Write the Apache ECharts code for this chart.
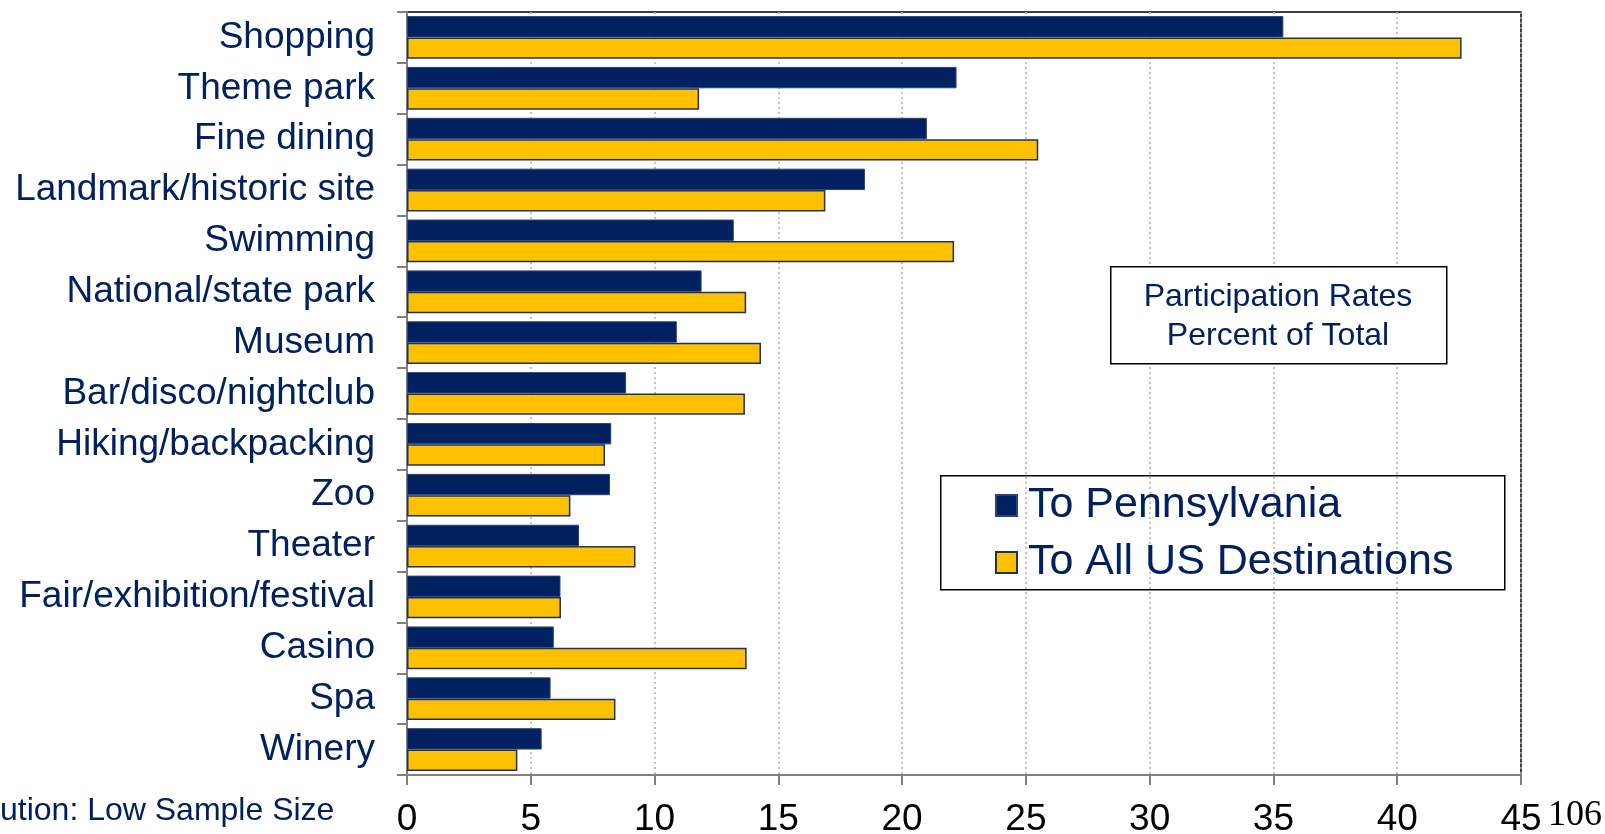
<!DOCTYPE html>
<html>
<head>
<meta charset="utf-8">
<script src="https://cdn.jsdelivr.net/npm/echarts@6/dist/echarts.min.js"></script>
<style>
html,body{margin:0;padding:0;background:#fff;}
#chart{width:1605px;height:834px;}
</style>
</head>
<body>
<div id="chart"></div>
<script>
const categories = ["Shopping","Theme park","Fine dining","Landmark/historic site","Swimming","National/state park","Museum","Bar/disco/nightclub","Hiking/backpacking","Zoo","Theater","Fair/exhibition/festival","Casino","Spa","Winery"];
const toPennsylvania = [35.4, 22.2, 21.0, 18.5, 13.2, 11.9, 10.9, 8.85, 8.25, 8.2, 6.95, 6.2, 5.93, 5.8, 5.44];
const toAllUS = [42.6, 11.8, 25.5, 16.9, 22.1, 13.7, 14.3, 13.65, 8.0, 6.6, 9.23, 6.22, 13.72, 8.42, 4.46];
const xTicks = [0, 5, 10, 15, 20, 25, 30, 35, 40, 45];
const seriesNames = ["To Pennsylvania", "To All US Destinations"];

const NAVY = '#002060';
const YELLOW = '#FFC000';
const FONT = '"Liberation Sans", Arial, sans-serif';

const chart = echarts.init(document.getElementById('chart'), null, {renderer: 'canvas'});
chart.setOption({
  animation: false,
  backgroundColor: '#ffffff',
  textStyle: {fontFamily: FONT},
  grid: {left: 407, right: 84, top: 12, bottom: 59, show: true, borderColor: '#000', borderWidth: 1.5, backgroundColor: 'transparent', containLabel: false, outerBoundsMode: 'none'},
  xAxis: {
    type: 'value', min: xTicks[0], max: xTicks[xTicks.length - 1], interval: 5,
    axisLine: {show: true, lineStyle: {color: '#808080', width: 2}},
    axisTick: {show: true, length: 10, lineStyle: {color: '#808080', width: 2}},
    axisLabel: {color: '#000', fontSize: 37, margin: 26, fontFamily: FONT},
    splitLine: {show: true, lineStyle: {color: '#b0b0b0', type: [2, 3], width: 1.5}}
  },
  yAxis: {
    type: 'category', data: categories, inverse: true,
    axisLine: {show: true, lineStyle: {color: '#808080', width: 2}},
    axisTick: {show: true, length: 10, lineStyle: {color: '#808080', width: 2}},
    axisLabel: {color: NAVY, fontSize: 37, margin: 32, fontFamily: FONT},
    splitLine: {show: false}
  },
  legend: {
    orient: 'vertical', left: 990, top: 479,
    itemWidth: 21, itemHeight: 21, itemGap: 14,
    icon: 'rect',
    textStyle: {color: NAVY, fontSize: 43, fontFamily: FONT, padding: [0, 0, 0, 6]},
    data: seriesNames
  },
  series: [
    {name: seriesNames[0], type: 'bar', data: toPennsylvania, barGap: '0%', barCategoryGap: '16%',
     itemStyle: {color: NAVY, borderColor: '#2c4578', borderWidth: 1}},
    {name: seriesNames[1], type: 'bar', data: toAllUS, barGap: '0%', barCategoryGap: '16%',
     itemStyle: {color: YELLOW, borderColor: '#1a3367', borderWidth: 1.5}}
  ],
  graphic: [
    {type: 'rect', left: 940, top: 475, shape: {width: 564, height: 114}, style: {fill: 'transparent', stroke: '#000', lineWidth: 1.5}, z: 10},
    {type: 'rect', left: 1110, top: 266, shape: {width: 336, height: 97}, style: {fill: '#fff', stroke: '#000', lineWidth: 1.5}, z: 10},
    {type: 'text', x: 1278, y: 317, z: 11, style: {text: 'Participation Rates\nPercent of Total', fill: NAVY, font: '32px "Liberation Sans", Arial, sans-serif', align: 'center', verticalAlign: 'middle', lineHeight: 39}},
    {type: 'text', left: 0, top: 795, z: 11, style: {text: 'ution: Low Sample Size', fill: NAVY, font: '32px "Liberation Sans", Arial, sans-serif'}},
    {type: 'text', left: 1548, top: 798, z: 11, style: {text: '106', fill: '#000', font: '36px "Liberation Serif", "DejaVu Serif", serif'}}
  ]
});
</script>
</body>
</html>
